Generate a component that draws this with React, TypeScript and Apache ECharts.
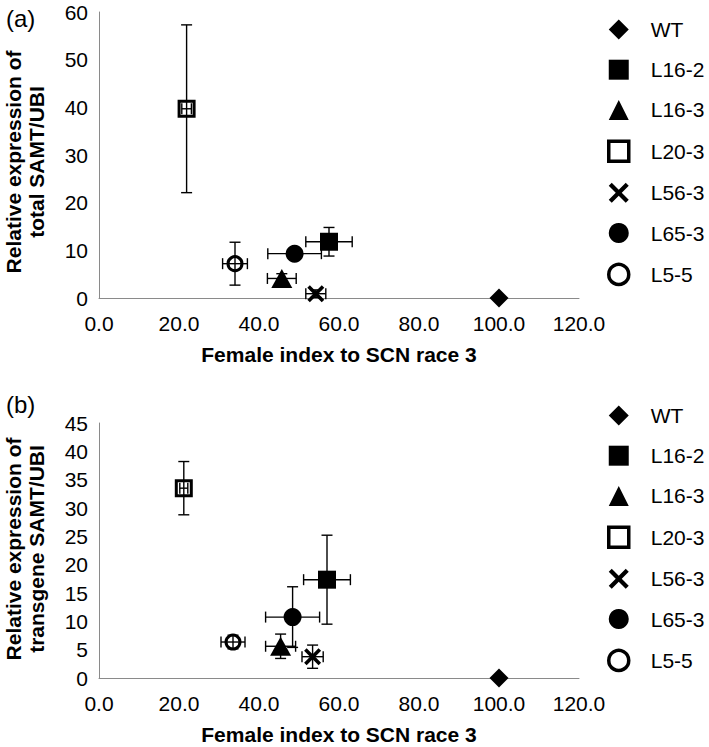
import React, { useEffect, useRef } from "react";
import * as echarts from "echarts";

const lines = ["WT", "L16-2", "L16-3", "L20-3", "L56-3", "L65-3", "L5-5"];

// Panel (a): total SAMT/UBI
const femaleIndexA = [100, 57.5, 45.7, 21.9, 54.2, 48.9, 34.0];
const femaleIndexErrA = [0, 5.8, 3.6, 1.2, 2.5, 6.7, 3.1];
const totalSamt = [0, 11.8, 4.1, 39.7, 0.9, 9.3, 7.2];
const totalSamtErr = [0, 3.0, 1.0, 17.6, 0.8, 1.2, 4.5];

// Panel (b): transgene SAMT/UBI
const femaleIndexB = [100, 57.0, 45.4, 21.2, 53.4, 48.4, 33.5];
const femaleIndexErrB = [0, 5.85, 3.75, 1.0, 2.65, 6.75, 3.0];
const transgeneSamt = [0, 17.35, 5.6, 33.5, 3.76, 10.75, 6.35];
const transgeneSamtErr = [0, 7.85, 2.15, 4.7, 2.05, 5.35, 1.2];

const xTitle = "Female index to SCN race 3";
const yTitleA = ["Relative expression of", "total SAMT/UBI"];
const yTitleB = ["Relative expression of", "transgene SAMT/UBI"];

const FONT = '"Liberation Sans", Arial, Helvetica, sans-serif';
const X_PATH =
  "path://M0,3 L3,0 L10,7 L17,0 L20,3 L13,10 L20,17 L17,20 L10,13 L3,20 L0,17 L7,10 Z";

const markerStyles: Record<string, any> = {
  WT: { symbol: "diamond", symbolSize: 19, itemStyle: { color: "#000", opacity: 1 } },
  "L16-2": { symbol: "rect", symbolSize: 18, itemStyle: { color: "#000", opacity: 1 } },
  "L16-3": { symbol: "triangle", symbolSize: [21, 19], itemStyle: { color: "#000", opacity: 1 } },
  "L20-3": {
    symbol: "rect",
    symbolSize: 15,
    itemStyle: { color: "#fff", borderColor: "#000", borderWidth: 3, opacity: 1 },
  },
  "L56-3": { symbol: X_PATH, symbolSize: 17, itemStyle: { color: "#000", opacity: 1 } },
  "L65-3": { symbol: "circle", symbolSize: 18, itemStyle: { color: "#000", opacity: 1 } },
  "L5-5": {
    symbol: "circle",
    symbolSize: 14,
    itemStyle: { color: "#fff", borderColor: "#000", borderWidth: 3, opacity: 1 },
  },
};

function errorBarRender(params: any, api: any) {
  const x = api.value(0);
  const y = api.value(1);
  const xe = api.value(2);
  const ye = api.value(3);
  const cap = 5.5;
  const style = { stroke: "#000", lineWidth: 1.4 };
  const children: any[] = [];
  if (xe > 0) {
    const l = api.coord([x - xe, y]);
    const r = api.coord([x + xe, y]);
    children.push({ type: "line", shape: { x1: l[0], y1: l[1], x2: r[0], y2: r[1] }, style });
    children.push({ type: "line", shape: { x1: l[0], y1: l[1] - cap, x2: l[0], y2: l[1] + cap }, style });
    children.push({ type: "line", shape: { x1: r[0], y1: r[1] - cap, x2: r[0], y2: r[1] + cap }, style });
  }
  if (ye > 0) {
    const t = api.coord([x, y + ye]);
    const b = api.coord([x, y - ye]);
    children.push({ type: "line", shape: { x1: t[0], y1: t[1], x2: b[0], y2: b[1] }, style });
    children.push({ type: "line", shape: { x1: t[0] - cap, y1: t[1], x2: t[0] + cap, y2: t[1] }, style });
    children.push({ type: "line", shape: { x1: b[0] - cap, y1: b[1], x2: b[0] + cap, y2: b[1] }, style });
  }
  return { type: "group", children };
}

function panelSeries(idx: number, xs: number[], xErr: number[], ys: number[], yErr: number[]) {
  const out: any[] = [];
  lines.forEach((name, i) => {
    const m = markerStyles[name];
    out.push({
      type: "scatter",
      name,
      xAxisIndex: idx,
      yAxisIndex: idx,
      symbol: m.symbol,
      symbolSize: m.symbolSize,
      itemStyle: m.itemStyle,
      z: 2,
      data: [[xs[i], ys[i]]],
    });
  });
  out.push({
    type: "custom",
    xAxisIndex: idx,
    yAxisIndex: idx,
    z: 3,
    silent: true,
    clip: false,
    encode: { x: 0, y: 1 },
    renderItem: errorBarRender,
    data: lines.map((_, i) => [xs[i], ys[i], xErr[i], yErr[i]]),
  });
  return out;
}

const axisColor = "#8a8a8a";

function xAxis(idx: number) {
  return {
    type: "value",
    gridIndex: idx,
    min: 0,
    max: 120,
    interval: 20,
    name: xTitle,
    nameLocation: "middle",
    nameGap: 46,
    nameTextStyle: { fontFamily: FONT, fontSize: 21, fontWeight: "bold", color: "#000" },
    axisLine: { show: true, onZero: false, lineStyle: { color: axisColor, width: 1 } },
    axisTick: { show: false },
    splitLine: { show: false },
    axisLabel: {
      fontFamily: FONT,
      fontSize: 21,
      color: "#000",
      margin: 15,
      formatter: (v: number) => v.toFixed(1),
    },
  };
}

function yAxis(idx: number, max: number, interval: number) {
  return {
    type: "value",
    gridIndex: idx,
    min: 0,
    max,
    interval,
    axisLine: { show: true, lineStyle: { color: axisColor, width: 1 } },
    axisTick: { show: false },
    splitLine: { show: false },
    axisLabel: { fontFamily: FONT, fontSize: 21, color: "#000", margin: 11 },
  };
}

function legend(top: number) {
  return {
    orient: "vertical",
    left: 602,
    top,
    itemWidth: 20,
    itemHeight: 20,
    itemGap: 19.2,
    selectedMode: false,
    data: lines.map((n) =>
      markerStyles[n].itemStyle.color === "#fff"
        ? { name: n, itemStyle: { color: "#fff", borderColor: "#000", borderWidth: 3.5 } }
        : n
    ),
    textStyle: {
      fontFamily: FONT,
      fontSize: 21,
      color: "#000",
      lineHeight: 20,
      padding: [0, 0, 0, 17],
    },
  };
}

function rotText(text: string, x: number, y: number) {
  return {
    type: "text",
    x,
    y,
    rotation: Math.PI / 2,
    style: {
      text,
      fontFamily: FONT,
      fontSize: 21,
      fontWeight: "bold",
      fill: "#000",
      align: "center",
      verticalAlign: "middle",
    },
  };
}

function label(text: string, x: number, y: number) {
  return {
    type: "text",
    x,
    y,
    style: {
      text,
      fontFamily: FONT,
      fontSize: 24,
      fill: "#000",
      align: "left",
      verticalAlign: "middle",
    },
  };
}

export default function App() {
  const ref = useRef<HTMLDivElement>(null);
  useEffect(() => {
    document.body.style.margin = "0";
    const chart = echarts.init(ref.current!, undefined, { renderer: "svg" });
    chart.setOption({
      animation: false,
      backgroundColor: "#fff",
      textStyle: { fontFamily: FONT },
      grid: [
        { left: 99, top: 12, width: 480, height: 286 },
        { left: 99, top: 423, width: 480, height: 255 },
      ],
      xAxis: [xAxis(0), xAxis(1)],
      yAxis: [yAxis(0, 60, 10), yAxis(1, 45, 5)],
      legend: [legend(14), legend(400)],
      graphic: [
        label("(a)", 6, 18),
        label("(b)", 6, 404),
        rotText(yTitleA[0], 13, 162),
        rotText(yTitleA[1], 36, 162),
        rotText(yTitleB[0], 13, 549),
        rotText(yTitleB[1], 36, 549),
      ],
      series: [
        ...panelSeries(0, femaleIndexA, femaleIndexErrA, totalSamt, totalSamtErr),
        ...panelSeries(1, femaleIndexB, femaleIndexErrB, transgeneSamt, transgeneSamtErr),
      ],
    });
    return () => chart.dispose();
  }, []);
  return (
    <div
      ref={ref}
      style={{ position: "absolute", left: 0, top: 0, width: 709, height: 747 }}
    />
  );
}
